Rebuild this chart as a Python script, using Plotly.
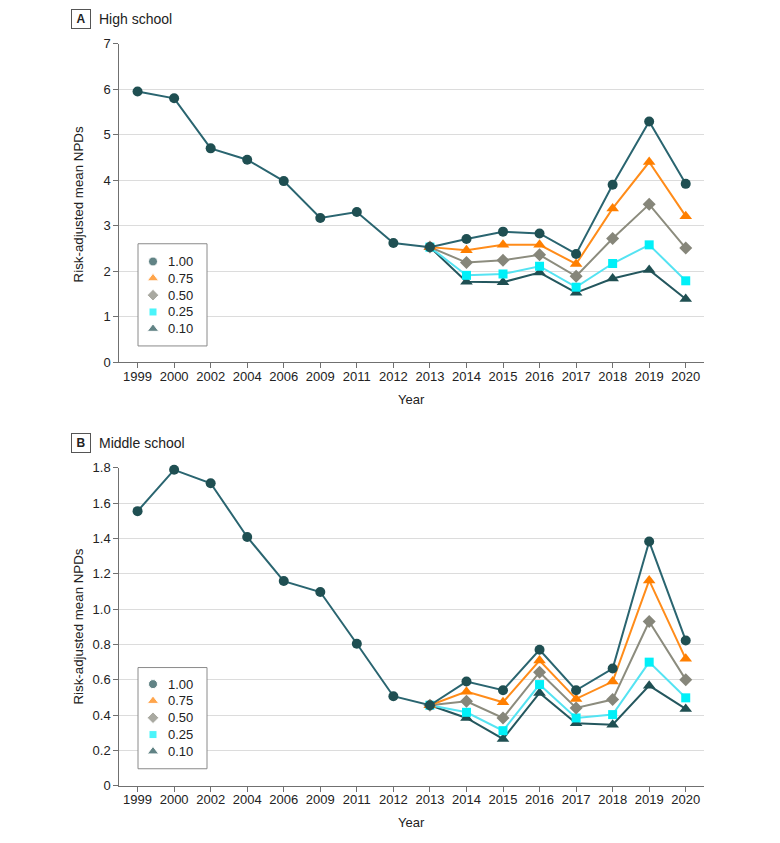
import plotly.graph_objects as go

years = ["1999", "2000", "2002", "2004", "2006", "2009", "2011", "2012",
         "2013", "2014", "2015", "2016", "2017", "2018", "2019", "2020"]
years_late = years[8:]
series_names = ["1.00", "0.75", "0.50", "0.25", "0.10"]

# Panel A: High school
hs_100 = [5.95, 5.80, 4.70, 4.45, 3.98, 3.17, 3.30, 2.62,
          2.53, 2.71, 2.87, 2.83, 2.38, 3.90, 5.29, 3.92]
hs_075 = [2.53, 2.46, 2.58, 2.58, 2.16, 3.38, 4.40, 3.21]
hs_050 = [2.53, 2.19, 2.24, 2.36, 1.89, 2.72, 3.47, 2.51]
hs_025 = [2.53, 1.91, 1.94, 2.11, 1.65, 2.17, 2.58, 1.79]
hs_010 = [2.53, 1.77, 1.76, 1.97, 1.53, 1.84, 2.03, 1.39]

# Panel B: Middle school
ms_100 = [1.555, 1.789, 1.713, 1.409, 1.159, 1.097, 0.804, 0.507,
          0.456, 0.590, 0.541, 0.770, 0.541, 0.664, 1.383, 0.823]
ms_075 = [0.456, 0.533, 0.473, 0.709, 0.492, 0.590, 1.163, 0.719]
ms_050 = [0.456, 0.478, 0.384, 0.643, 0.441, 0.488, 0.930, 0.601]
ms_025 = [0.456, 0.416, 0.312, 0.573, 0.384, 0.403, 0.700, 0.498]
ms_010 = [0.456, 0.384, 0.265, 0.526, 0.354, 0.346, 0.567, 0.435]

hs_ticks = [0, 1, 2, 3, 4, 5, 6, 7]
ms_ticks = [0, 0.2, 0.4, 0.6, 0.8, 1.0, 1.2, 1.4, 1.6, 1.8]
ms_ticktext = ["0", "0.2", "0.4", "0.6", "0.8", "1.0", "1.2", "1.4", "1.6", "1.8"]

FONT = "Liberation Sans, Arial, sans-serif"

# page body margin (8px) compensation; keep page within the window
OX, OY = 8, 8
W, H = 780 - 2 * OX, 843 - 2 * OY
VS = 0.98  # observed vertical squeeze of the captured page


def px(x):
    return (x - OX) / W


def py(y):
    t = y / VS - 8
    return 1 - (t - OY) / H


styles = [
    dict(symbol="circle", size=10, mcolor="#1f4f52", lcolor="#2a6570"),
    dict(symbol="triangle-up", size=11, mcolor="#ff7f00", lcolor="#ff8c1a"),
    dict(symbol="diamond", size=10, mcolor="#86867a", lcolor="#8c8c7e"),
    dict(symbol="square", size=9, mcolor="#00f0f8", lcolor="#55e3f2"),
    dict(symbol="triangle-up", size=11, mcolor="#1f4f52", lcolor="#24575e"),
]

fig = go.Figure()

panels = [
    ("x", "y", [hs_100, hs_075, hs_050, hs_025, hs_010]),
    ("x2", "y2", [ms_100, ms_075, ms_050, ms_025, ms_010]),
]

for xa, ya, data in panels:
    for i in reversed(range(5)):
        st = styles[i]
        xs = years if len(data[i]) == len(years) else years_late
        fig.add_trace(go.Scatter(
            x=xs, y=data[i], xaxis=xa, yaxis=ya, mode="lines+markers",
            line=dict(color=st["lcolor"], width=2),
            marker=dict(symbol=st["symbol"], size=st["size"], color=st["mcolor"]),
            showlegend=False, name=series_names[i], cliponaxis=False))

# custom legend boxes drawn on a full-page overlay axis (paper units)
annotations = []
legend_boxes = [(138, 207, 244, 346, 261.7), (138, 207, 667, 768, 683.5)]
ROW = 16.8
for x0, x1, y0, y1, first in legend_boxes:
    fig.add_trace(go.Scatter(
        x=[px(x0), px(x1), px(x1), px(x0), px(x0)],
        y=[py(y0), py(y0), py(y1), py(y1), py(y0)],
        xaxis="x3", yaxis="y3", mode="lines", fill="toself", fillcolor="white",
        line=dict(color="#8a8a8a", width=1), showlegend=False, hoverinfo="skip"))
    rows = [first + k * ROW for k in range(5)]
    fig.add_trace(go.Scatter(
        x=[px(153)] * 5, y=[py(r) for r in rows], xaxis="x3", yaxis="y3",
        mode="markers", showlegend=False, hoverinfo="skip", cliponaxis=False,
        marker=dict(symbol=[s["symbol"] for s in styles],
                    size=[s["size"] - 1 for s in styles],
                    color=[s["mcolor"] for s in styles])))
    for name, r in zip(series_names, rows):
        annotations.append(dict(x=px(166), y=py(r), xref="paper", yref="paper",
                                xanchor="left", yanchor="middle", showarrow=False,
                                text=name, font=dict(size=13, family=FONT, color="#222")))

xdom = [px(119.3), px(704)]
common_x = dict(type="category", categoryorder="array", categoryarray=years,
                range=[-0.5, 15.5], showgrid=False, showline=True,
                linecolor="#707070", linewidth=1, ticks="outside", ticklen=5,
                tickcolor="#707070", tickfont=dict(size=13, color="#222", family=FONT),
                ticklabelstandoff=-3, zeroline=False, domain=xdom)
common_y = dict(showgrid=True, gridcolor="#dcdcdc", gridwidth=1, showline=True,
                linecolor="#707070", linewidth=1, ticks="outside", ticklen=5,
                tickcolor="#707070", tickfont=dict(size=13, color="#222", family=FONT),
                zeroline=False)

fig.update_layout(
    width=W, height=H,
    margin=dict(l=0, r=0, t=0, b=0),
    paper_bgcolor="white", plot_bgcolor="rgba(0,0,0,0)",
    font=dict(family=FONT, color="#222"),
    showlegend=False,
    xaxis=dict(common_x, anchor="y"),
    xaxis2=dict(common_x, anchor="y2"),
    yaxis=dict(common_y, range=[0, 7], tickvals=hs_ticks,
               domain=[py(362.3), py(44.3)], anchor="x"),
    yaxis2=dict(common_y, range=[0, 1.8], tickvals=ms_ticks, ticktext=ms_ticktext,
                domain=[py(785), py(467.7)], anchor="x2"),
    xaxis3=dict(domain=[0, 1], range=[0, 1], visible=False, anchor="y3", fixedrange=True),
    yaxis3=dict(domain=[0, 1], range=[0, 1], visible=False, anchor="x3", fixedrange=True),
)

for label, title, yc in [("A", "High school", 20), ("B", "Middle school", 443)]:
    annotations.append(dict(x=px(71), y=py(yc), xref="paper", yref="paper",
                            xanchor="left", yanchor="middle", showarrow=False,
                            text="<b>%s</b>" % label,
                            font=dict(size=12, family=FONT, color="#222"),
                            bordercolor="#555", borderwidth=1, borderpad=2, width=14))
    annotations.append(dict(x=px(97), y=py(yc), xref="paper", yref="paper",
                            xanchor="left", yanchor="middle", showarrow=False,
                            text=title, font=dict(size=14, family=FONT, color="#222")))
for yc, ytitle in [(204.7, 399), (626, 822)]:
    annotations.append(dict(x=px(78), y=py(yc), xref="paper", yref="paper",
                            xanchor="center", yanchor="middle", showarrow=False,
                            textangle=-90, text="Risk-adjusted mean NPDs",
                            font=dict(size=13.3, family=FONT, color="#222")))
    annotations.append(dict(x=px(411.5), y=py(ytitle), xref="paper", yref="paper",
                            xanchor="center", yanchor="middle", showarrow=False,
                            text="Year", font=dict(size=13, family=FONT, color="#222")))
fig.update_layout(annotations=annotations)

fig.write_html("out.html")
